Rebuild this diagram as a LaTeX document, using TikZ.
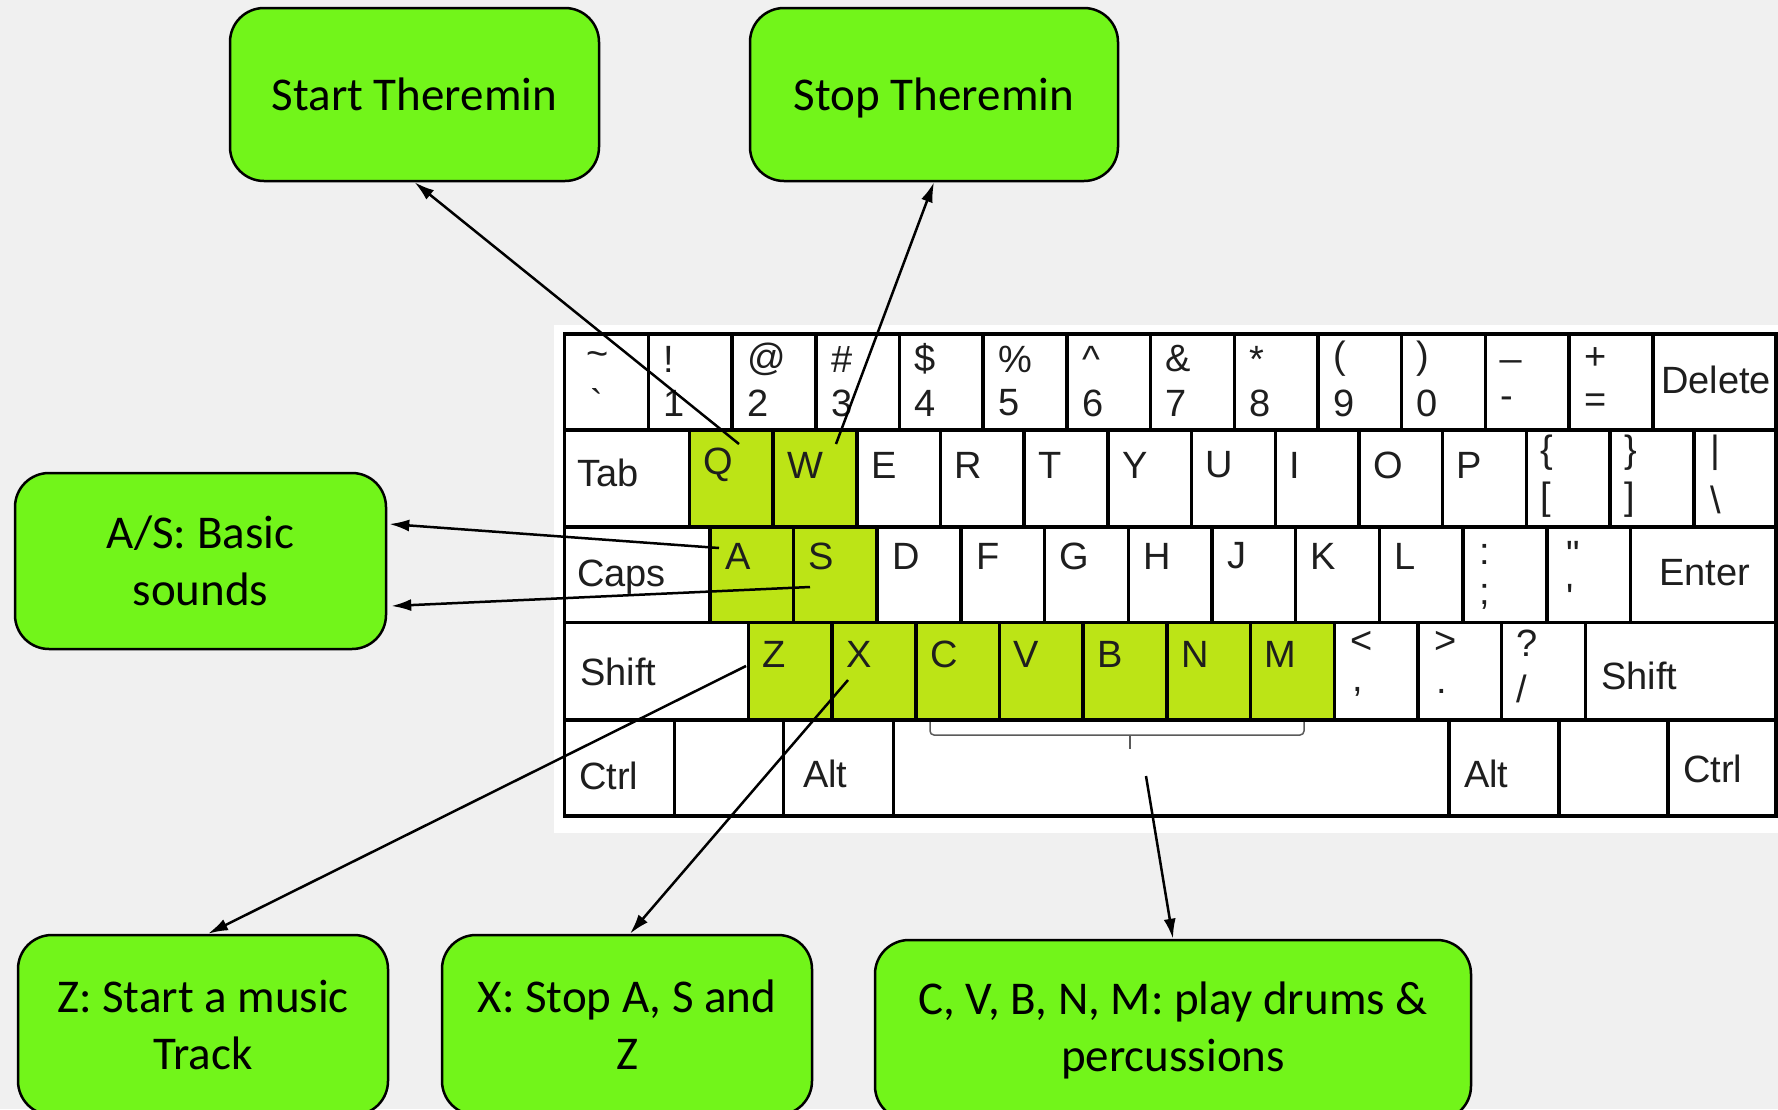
\documentclass[tikz,border=0pt]{standalone}
\usepackage{fontspec}
\setmainfont{Carlito}
\newfontfamily\kbfont{Liberation Sans}
\usetikzlibrary{calc,arrows.meta}
\definecolor{bgc}{RGB}{240,240,240}
\definecolor{boxg}{RGB}{114,245,26}
\definecolor{keyg}{RGB}{188,228,22}
\definecolor{kbtext}{RGB}{30,30,30}
\definecolor{bracec}{RGB}{90,90,90}
\begin{document}
\begin{tikzpicture}[x=1pt,y=-1pt,
  keyrect/.style={draw=black,line width=3.5pt},
  kt/.style={font=\kbfont\fontsize{38}{40}\selectfont,text=kbtext,inner sep=0pt,anchor=west},
  infobox/.style={draw=black,line width=2.5pt,fill=boxg,rounded corners=34pt,
    font=\fontsize{47}{57}\selectfont,align=center,inner sep=0pt},
  conn/.style={line width=2.5pt,-{Latex[length=20pt,width=12pt]}}
]
\useasboundingbox (0,0) rectangle (1778,1109);
\clip (0,0) rectangle (1778,1109);
\fill[bgc] (0,0) rectangle (1778,1109);
% keyboard background
\fill[white] (554,325) rectangle (1778,833);
% highlighted keys
\foreach \i in {0,1} \fill[keyg] ({689.4+83.7*\i},430) rectangle ({689.4+83.7*(\i+1)},527);
\foreach \i in {0,1} \fill[keyg] ({709.8+83.7*\i},527) rectangle ({709.8+83.7*(\i+1)},622.5);
\foreach \i in {0,...,6} \fill[keyg] ({748.4+83.7*\i},622.5) rectangle ({748.4+83.7*(\i+1)},720);
% row 1
\foreach \i in {0,...,12} \draw[keyrect] ({564.7+83.7*\i},334) rectangle ({564.7+83.7*(\i+1)},430);
\draw[keyrect] (1652.8,334) rectangle (1776,430);
% row 2
\draw[keyrect] (564.7,430) rectangle (689.4,527);
\foreach \i in {0,...,11} \draw[keyrect] ({689.4+83.7*\i},430) rectangle ({689.4+83.7*(\i+1)},527);
\draw[keyrect] (1693.8,430) rectangle (1776,527);
% row 3
\draw[keyrect] (564.7,527) rectangle (709.8,622.5);
\foreach \i in {0,...,10} \draw[keyrect] ({709.8+83.7*\i},527) rectangle ({709.8+83.7*(\i+1)},622.5);
\draw[keyrect] (1630.5,527) rectangle (1776,622.5);
% row 4
\draw[keyrect] (564.7,622.5) rectangle (748.4,720);
\foreach \i in {0,...,9} \draw[keyrect] ({748.4+83.7*\i},622.5) rectangle ({748.4+83.7*(\i+1)},720);
\draw[keyrect] (1585.4,622.5) rectangle (1776,720);
% row 5
\foreach \a/\b in {564.7/674.7,674.7/783.5,783.5/893.5,893.5/1449.1,1449.1/1559.1,1559.1/1668,1668/1776}
  \draw[keyrect] (\a,720) rectangle (\b,816);

% row 1 labels
\node[kt] (ku0) at (586.7,359) {\textasciitilde};
\node[kt] (kl0) at (590.7,403) {\textasciigrave};
\foreach \i/\u/\l in {1/{!}/1,2/{@}/2,3/{\#}/3,4/{\$}/4,5/{\%}/5,6/{\textasciicircum}/6,7/{\&}/7,8/{*}/8,9/{(}/9,10/{)}/0,11/{\_}/{-},12/{+}/{=}}{
  \node[kt] (ku\i) at ({564.7+83.7*\i+15},359) {\u};
  \node[kt] (kl\i) at ({564.7+83.7*\i+15},403) {\l};
}
\node[kt] (kdel) at (1661,380) {Delete};
% row 2 labels
\node[kt] (ktab) at (577,473) {Tab};
\foreach \i/\c in {0/Q,1/W,2/E,3/R,4/T,5/Y,6/U,7/I,8/O,9/P}
  \node[kt] (k\c) at ({689.4+83.7*\i+14},465) {\c};
\node[kt] (kbo) at (1540,453) {\{};
\node[kt] (kbo2) at (1540,500) {[};
\node[kt] (kbc) at (1624,453) {\}};
\node[kt] (kbc2) at (1624,500) {]};
\node[kt] (kbar) at (1710,453) {|};
\node[kt] (kbsl) at (1710,500) {\textbackslash};
% row 3 labels
\node[kt] (kcaps) at (577,577) {Caps};
\foreach \i/\c in {0/A,1/S,2/D,3/F,4/G,5/H,6/J,7/K,8/L}
  \node[kt] (k\c) at ({709.8+83.7*\i+15},556) {\c};
\node[kt] (kcol) at (1479,554) {:};
\node[kt] (ksem) at (1479,597) {;};
\node[kt] (kdq) at (1566,554) {\char"0022};
\node[kt] (ksq) at (1566,597) {\char"0027};
\node[kt] (kent) at (1659,573) {Enter};
% row 4 labels
\node[kt] (kshl) at (580,672) {Shift};
\foreach \i/\c in {0/Z,1/X,2/C,3/V,4/B,5/N,6/M}
  \node[kt] (k\c) at ({748.4+83.7*\i+14},654) {\c};
\node[kt] (klt) at (1350,642) {<};
\node[kt] (kcom) at (1352,692) {,};
\node[kt] (kgt) at (1434,642) {>};
\node[kt] (kdot) at (1436,691) {.};
\node[kt] (kqm) at (1516,643) {?};
\node[kt] (ksl) at (1516,689) {/};
\node[kt] (kshr) at (1601,676) {Shift};
% row 5 labels
\node[kt] (kctl) at (579,776) {Ctrl};
\node[kt] (kalt) at (803,774) {Alt};
\node[kt] (kaltr) at (1464,774) {Alt};
\node[kt] (kctr) at (1683,769) {Ctrl};
% brace
\draw[bracec,line width=1.5pt,rounded corners=4pt] (930,722) -- (930,735) -- (1304,735) -- (1304,722);
\draw[bracec,line width=1.5pt] (1130,735) -- (1130,749);

% boxes
\node[infobox,minimum width=369pt,minimum height=173pt] (start) at (414.5,94.5) {Start Theremin};
\node[infobox,minimum width=368pt,minimum height=173pt] (stop) at (934,94.5) {\raisebox{0pt}[\height][0pt]{Stop Theremin}};
\node[infobox,minimum width=371pt,minimum height=176pt] (as) at (200.5,561) {A/S: Basic\\sounds};
\node[infobox,minimum width=370pt,minimum height=180pt] (zb) at (203,1025) {Z: Start a music\\Track};
\node[infobox,minimum width=370pt,minimum height=180pt] (xb) at (627,1025) {X: Stop A, S and\\Z};
\node[infobox,minimum width=596pt,minimum height=180pt] (cb) at (1173,1030) {C, V, B, N, M: play drums \&\\percussions};

% connector start points
\coordinate (qpt) at (739,444);
\coordinate (wpt) at (836,444);
\coordinate (apt) at (719,548);
\coordinate (spt) at (810,587);
\coordinate (zpt) at (746,666);
\coordinate (xpt) at (848,680);
\coordinate (sppt) at (1146,776);

\draw[conn] (qpt) -- (start.south);
\draw[conn] (wpt) -- (stop.south);
\draw[conn] (apt) -- ($(as.east)+(2,-37)$);
\draw[conn] (spt) -- ($(as.east)+(4,45)$);
\draw[conn] (zpt) -- ($(zb.north)+(5,0)$);
\draw[conn] (xpt) -- ($(xb.north)+(3,0)$);
\draw[conn] (sppt) -- (cb.north);
\end{tikzpicture}
\end{document}
